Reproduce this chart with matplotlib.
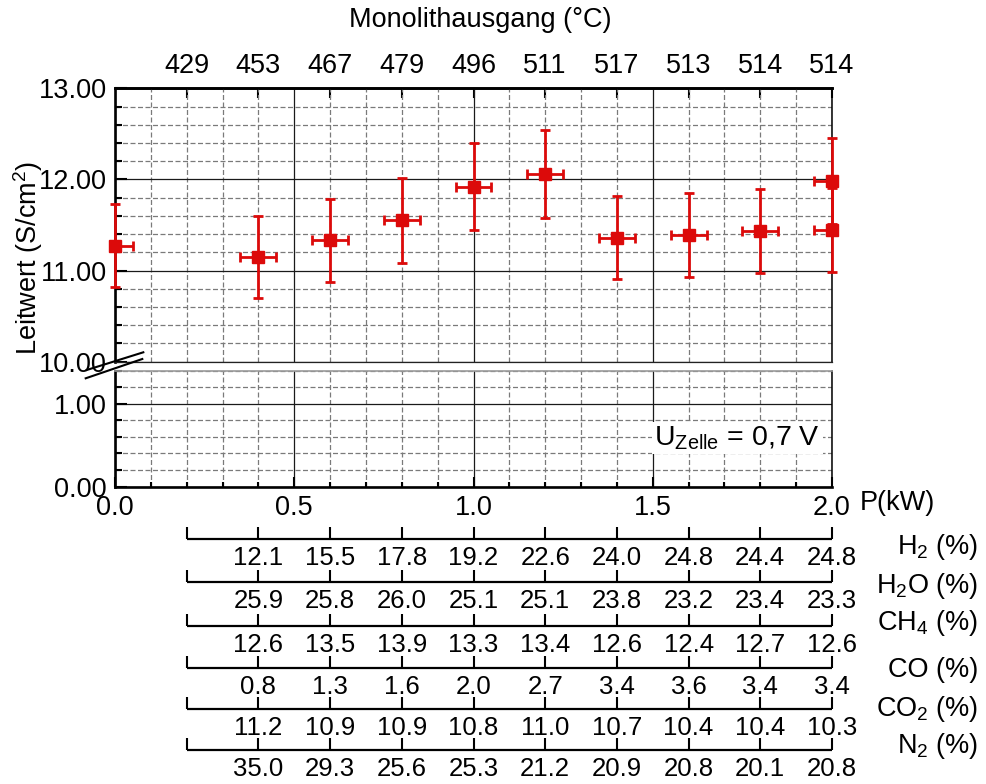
import matplotlib
matplotlib.use("Agg")
import matplotlib.pyplot as plt
from matplotlib.ticker import MultipleLocator, FormatStrFormatter

plt.rcParams['font.family'] = ['Liberation Sans', 'DejaVu Sans']
plt.rcParams['mathtext.default'] = 'regular'

# ---- data -------------------------------------------------------------
# stack power (kW), conductance (S/cm^2) with error bars
power = [0.0, 0.4, 0.6, 0.8, 1.0, 1.2, 1.4, 1.6, 1.8, 2.0, 2.0]
leitwert = [11.27, 11.15, 11.33, 11.55, 11.92, 12.06, 11.36, 11.39, 11.43, 11.985, 11.445]
leitwert_err = [0.455, 0.45, 0.45, 0.465, 0.48, 0.485, 0.455, 0.46, 0.46, 0.475, 0.46]
power_err_lo = [0.0, 0.05, 0.05, 0.05, 0.05, 0.05, 0.05, 0.05, 0.05, 0.05, 0.05]
power_err_hi = [0.05, 0.05, 0.05, 0.05, 0.05, 0.05, 0.05, 0.05, 0.05, 0.0, 0.0]

# monolith outlet temperature (top axis)
temp_power = [0.2, 0.4, 0.6, 0.8, 1.0, 1.2, 1.4, 1.6, 1.8, 2.0]
temp_labels = ['429', '453', '467', '479', '496', '511', '517', '513', '514', '514']

# reformate gas composition (%)
gas_power = [0.4, 0.6, 0.8, 1.0, 1.2, 1.4, 1.6, 1.8, 2.0]
gas_tick_power = [0.2, 0.4, 0.6, 0.8, 1.0, 1.2, 1.4, 1.6, 1.8, 2.0]
gas_names = ['H$_2$ (%)', 'H$_2$O (%)', 'CH$_4$ (%)', 'CO (%)', 'CO$_2$ (%)', 'N$_2$ (%)']
h2 = ['12.1', '15.5', '17.8', '19.2', '22.6', '24.0', '24.8', '24.4', '24.8']
h2o = ['25.9', '25.8', '26.0', '25.1', '25.1', '23.8', '23.2', '23.4', '23.3']
ch4 = ['12.6', '13.5', '13.9', '13.3', '13.4', '12.6', '12.4', '12.7', '12.6']
co = ['0.8', '1.3', '1.6', '2.0', '2.7', '3.4', '3.6', '3.4', '3.4']
co2 = ['11.2', '10.9', '10.9', '10.8', '11.0', '10.7', '10.4', '10.4', '10.3']
n2 = ['35.0', '29.3', '25.6', '25.3', '21.2', '20.9', '20.8', '20.1', '20.8']
gas_rows = [h2, h2o, ch4, co, co2, n2]

# ---- layout (figure pixels) ------------------------------------------
W, H = 986, 784
X0, X1 = 115, 832
UP_TOP, UP_BOT = 88.3, 361.7
LO_TOP, LO_BOT = 370.5, 486.7
row_lines = [539, 581.7, 626, 667.7, 709.3, 750]
row_label_base = [554, 593.3, 630, 676.7, 716, 753.3]

RED = '#dc0a0a'
FS = 19.5
FS_TAB = 18.5

fig = plt.figure(figsize=(W / 100, H / 100), dpi=100)

ax_up = fig.add_axes([X0 / W, 1 - UP_BOT / H, (X1 - X0) / W, (UP_BOT - UP_TOP) / H])
ax_lo = fig.add_axes([X0 / W, 1 - LO_BOT / H, (X1 - X0) / W, (LO_BOT - LO_TOP) / H])


def style_grid(ax):
    ax.set_xlim(0, 2.0)
    ax.xaxis.set_major_locator(MultipleLocator(0.5))
    ax.xaxis.set_minor_locator(MultipleLocator(0.1))
    ax.yaxis.set_major_locator(MultipleLocator(1.0))
    ax.yaxis.set_minor_locator(MultipleLocator(0.2))
    ax.yaxis.set_major_formatter(FormatStrFormatter('%.2f'))
    ax.grid(which='major', color='#1a1a1a', lw=0.9, ls='-')
    ax.grid(which='minor', color='#7a7a7a', lw=0.9, ls=(0, (4, 2)))
    ax.set_axisbelow(True)
    ax.tick_params(axis='y', which='major', direction='in', length=8.6, width=1.5,
                   left=True, right=False, labelsize=FS, pad=6)
    ax.tick_params(axis='y', which='minor', direction='in', length=5, width=1.5,
                   left=True, right=False)
    ax.spines['left'].set_linewidth(1.9)
    ax.spines['right'].set_linewidth(1.1)


style_grid(ax_up)
style_grid(ax_lo)

# upper panel
ax_up.set_ylim(10, 13)
ax_up.tick_params(axis='x', which='both', bottom=False, top=False,
                  labelbottom=False, labeltop=False)
ax_up.spines['top'].set_linewidth(1.9)
ax_up.spines['bottom'].set_linewidth(0.9)
ax_up.spines['bottom'].set_color('#222222')

sec = ax_up.secondary_xaxis('top')
sec.set_xticks(temp_power, labels=temp_labels)
sec.tick_params(direction='in', length=7, width=1.5, pad=7, labelsize=FS)
sec.spines['top'].set_linewidth(1.9)

ax_up.errorbar(power, leitwert, yerr=leitwert_err, xerr=[power_err_lo, power_err_hi],
               fmt='s', color=RED, ms=8.5, elinewidth=2.0, capsize=3.8, capthick=2.0,
               clip_on=False, zorder=5)

# lower panel
ax_lo.set_ylim(0, 1.4)
ax_lo.tick_params(axis='x', which='major', direction='in', length=7, width=1.5,
                  bottom=True, top=False, labelsize=FS, pad=6)
ax_lo.tick_params(axis='x', which='minor', direction='in', length=3.6, width=1.5,
                  bottom=True, top=False)
ax_lo.spines['bottom'].set_linewidth(1.9)
ax_lo.spines['top'].set_linewidth(1.2)
ax_lo.spines['top'].set_color('#9a9a9a')

ax_lo.text(1.736, 0.585, 'U$_{Zelle}$ = 0,7 V', fontsize=20.5, ha='center', va='center',
           bbox=dict(boxstyle='square,pad=0.08', fc='white', ec='none'), zorder=6)

# overlay in figure pixels: axis titles, break marks and composition table
ov = fig.add_axes([X0 / W, 0, (X1 - X0) / W, 1])
ov.set_xlim(0, 2.0)
ov.set_ylim(H, 0)
ov.axis('off')
ov.patch.set_alpha(0)


def px(xpix):
    return (xpix - X0) / (X1 - X0) * 2.0


ov.text(px(480), 20, 'Monolithausgang (°C)', fontsize=FS, ha='center', va='center')
ov.text(px(28), 258, 'Leitwert (S/cm$^2$)', fontsize=FS, ha='center', va='center',
        rotation=90)
ov.text(px(860), 503, 'P(kW)', fontsize=FS, ha='left', va='center')

# axis break marks
ov.plot([px(86.7), px(143.3)], [370, 352.3], color='black', lw=1.5, clip_on=False)
ov.plot([px(85.7), px(142.3)], [378.3, 359], color='black', lw=1.5, clip_on=False)

# composition table: one scale line per gas
for yl, yb, name, vals in zip(row_lines, row_label_base, gas_names, gas_rows):
    ov.hlines(yl, gas_tick_power[0], gas_tick_power[-1], color='black', lw=1.6,
              clip_on=False)
    ov.vlines(gas_tick_power, yl - 12, yl, color='black', lw=1.5, clip_on=False)
    for xv, s in zip(gas_power, vals):
        ov.text(xv, yl + 26, s, fontsize=FS_TAB, ha='center', va='baseline')
    ov.text(px(978), yb, name, fontsize=FS, ha='right', va='baseline')

fig.savefig('out.png', dpi=100)
